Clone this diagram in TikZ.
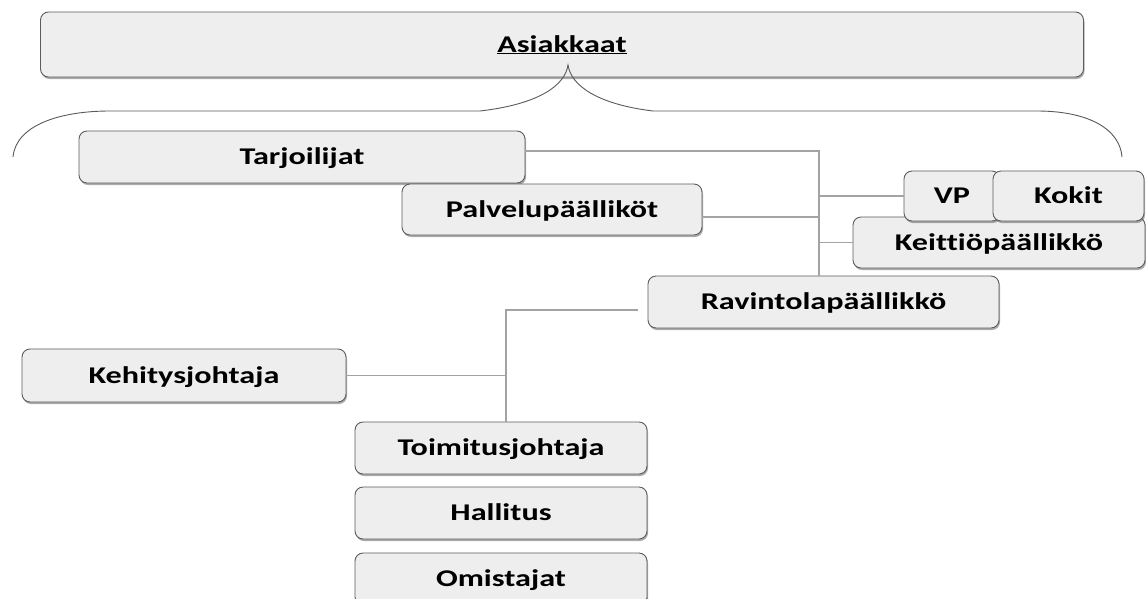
\documentclass[tikz,border=0pt]{standalone}
\usepackage{fontspec}
\setmainfont{Carlito}[FakeStretch=1.34, Ligatures=NoCommon]
\usetikzlibrary{shadows}
\definecolor{boxfill}{HTML}{EEEEEE}
\definecolor{boxline}{HTML}{5C5C5C}
\definecolor{linkgray}{HTML}{A3A3A3}
\tikzset{
  orgbox/.style={draw=boxline, fill=boxfill, line width=0.9pt, rounded corners=8pt,
    inner sep=0pt, text height=15pt, text depth=0pt,
    font=\fontsize{24}{28}\selectfont\bfseries,
    drop shadow={shadow xshift=1pt, shadow yshift=-2pt, fill=black!60, opacity=.55}},
  link/.style={draw=linkgray, line width=1.6pt},
  bracket/.style={draw=black!65, line width=0.9pt}
}
\begin{document}
\begin{tikzpicture}[x=1pt, y=-1pt]
			%%%%% FRAME %%%%%
			\useasboundingbox (0,0) rectangle (1146,598);
			\clip (0,0) rectangle (1146,598);
			
			\node[orgbox, minimum width=1043pt, minimum height=65pt] (asiakkaat) at (562,44.5) {\underline{Asiakkaat}};
			
			% bracket under the customers
			\coordinate (tip) at (568,65);
			\draw[bracket] (13,157) .. controls (16,125) and (60,111) .. (110,111) -- (480,111)
			  .. controls (540,104) and (565,85) .. (tip)
			  .. controls (571,85) and (596,104) .. (653,111) -- (1037,111)
			  .. controls (1090,111) and (1120,130) .. (1122,157);
			
			\node[orgbox, minimum width=446pt, minimum height=52pt] (tarjoilijat) at (302,157) {Tarjoilijat};
			\node[orgbox, minimum width=300pt, minimum height=51pt] (palvelu) at (552,209.5) {Palvelupäälliköt};
			
			\node[orgbox, minimum width=292pt, minimum height=51pt] (keittio) at (999,242.5) {Keittiöpäällikkö};
			\node[orgbox, minimum width=96pt, minimum height=50pt] (vp) at (952,196) {VP};
			\node[orgbox, minimum width=151pt, minimum height=50pt] (kokit) at (1068.5,196) {Kokit};
			
			\node[orgbox, minimum width=351pt, minimum height=52pt] (ravintola) at (823.5,302) {Ravintolapäällikkö};
			\node[orgbox, minimum width=324pt, minimum height=53pt] (kehitys) at (184,375.5) {Kehitysjohtaja};
			
			\node[orgbox, minimum width=292pt, minimum height=52pt] (toimitus) at (501,448) {Toimitusjohtaja};
			\node[orgbox, minimum width=292pt, minimum height=52pt] (hallitus) at (501,513) {Hallitus};
			\node[orgbox, minimum width=292pt, minimum height=52pt] (omistajat) at (501,579) {Omistajat};
			
			%%%%% CONNECTORS %%%%%
			\coordinate (bus) at (819,151);
			\draw[link] ([yshift=6pt]tarjoilijat.east) -- (bus) -- (bus |- ravintola.north);
			\draw[link] ([yshift=-7.5pt]palvelu.east) -| (bus);
			\draw[link] (vp.west) -| (bus);
			\draw[link] (keittio.west) -| (bus);
			
			\coordinate (lowbus) at (506,310);
			\coordinate (ravend) at ([xshift=-10pt,yshift=-8pt]ravintola.west);
			\draw[link] (ravend) -- (lowbus) -- (lowbus |- toimitus.north);
			\draw[link] (kehitys.east) -| (lowbus);
			
			%%%%% END %%%%%
\end{tikzpicture}
\end{document}
